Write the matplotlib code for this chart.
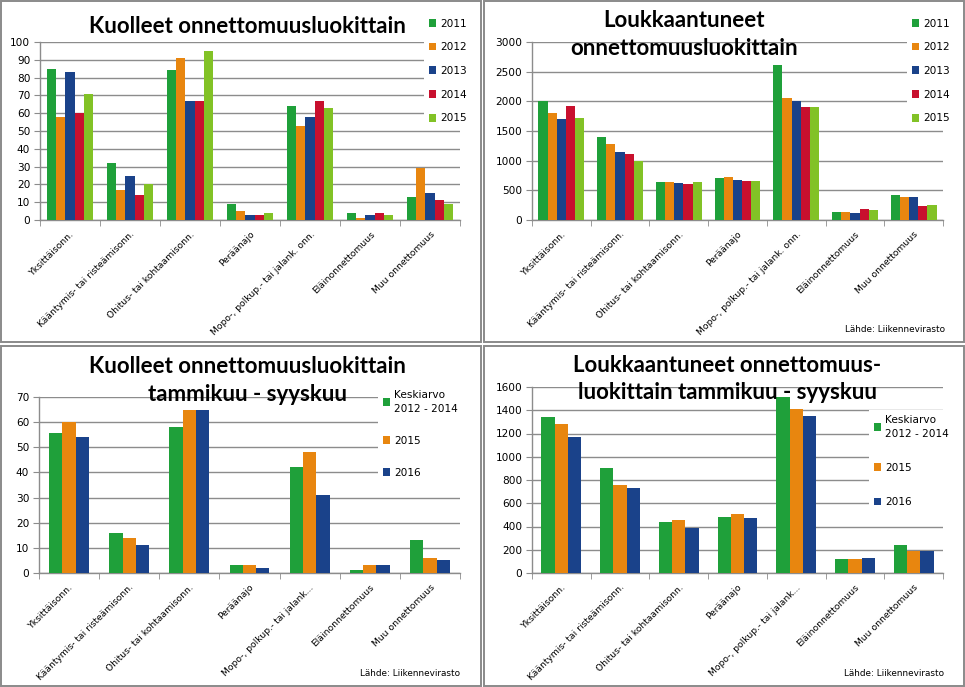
import matplotlib
matplotlib.use("Agg")
import matplotlib.pyplot as plt
from matplotlib.patches import Rectangle
import numpy as np

plt.rcParams['font.family'] = ['DejaVu Sans']

# data
categories = ["Yksittäisonn.", "Kääntymis- tai risteämisonn.", "Ohitus- tai kohtaamisonn.",
              "Peräänajo", "Mopo-, polkup.- tai jalank. onn.", "Eläinonnettomuus", "Muu onnettomuus"]
categories_short = ["Yksittäisonn.", "Kääntymis- tai risteämisonn.", "Ohitus- tai kohtaamisonn.",
                    "Peräänajo", "Mopo-, polkup.- tai jalank...", "Eläinonnettomuus", "Muu onnettomuus"]

years = ["2011", "2012", "2013", "2014", "2015"]
killed_2011 = [85, 32, 84, 9, 64, 4, 13]
killed_2012 = [58, 17, 91, 5, 53, 1, 29]
killed_2013 = [83, 25, 67, 3, 58, 3, 15]
killed_2014 = [60, 14, 67, 3, 67, 4, 11]
killed_2015 = [71, 20, 95, 4, 63, 3, 9]

injured_2011 = [2000, 1400, 640, 700, 2620, 140, 420]
injured_2012 = [1800, 1280, 640, 720, 2050, 140, 380]
injured_2013 = [1700, 1150, 620, 670, 2000, 120, 380]
injured_2014 = [1920, 1120, 600, 650, 1900, 190, 230]
injured_2015 = [1720, 1000, 640, 650, 1900, 170, 250]

period_labels = ["Keskiarvo\n2012 - 2014", "2015", "2016"]
killed_avg = [55.7, 16, 58, 3, 42.3, 1.3, 13]
killed_jan_sep_2015 = [60, 14, 65, 3, 48, 3, 6]
killed_jan_sep_2016 = [54, 11, 65, 2, 31, 3, 5]

injured_avg = [1340, 900, 440, 480, 1515, 120, 245]
injured_jan_sep_2015 = [1280, 760, 455, 505, 1410, 120, 190]
injured_jan_sep_2016 = [1170, 730, 385, 470, 1350, 125, 185]

five_colors = ["#1FA03A", "#E8860F", "#1A428A", "#C8102E", "#82C226"]
three_colors = ["#1FA03A", "#E8860F", "#1A428A"]

W, H = 965, 687
fig = plt.figure(figsize=(W / 100, H / 100), dpi=100)

def px_rect(l, t, r, b):
    return [l / W, 1 - b / H, (r - l) / W, (b - t) / H]

# panel borders
for l, t, r, b in [(1, 1, 481, 342), (484, 1, 964, 342), (1, 346, 481, 686), (484, 346, 964, 686)]:
    fig.patches.append(Rectangle((l / W, 1 - b / H), (r - l) / W, (b - t) / H,
                                 transform=fig.transFigure, fill=False,
                                 edgecolor="#8a8a8a", lw=1.4))

def bar_panel(rect, series, labels, colors, cats, ymax, ystep, group_width,
              legend_anchor, legend_spacing):
    ax = fig.add_axes(px_rect(*rect))
    n = len(series)
    x = np.arange(len(cats))
    w = group_width / n
    handles = []
    for i, (vals, lab, col) in enumerate(zip(series, labels, colors)):
        h = ax.bar(x + (i - (n - 1) / 2) * w, vals, width=w, color=col, label=lab, zorder=3)
        handles.append(h)
    ax.set_xlim(-0.5, len(cats) - 0.5)
    ax.set_ylim(0, ymax)
    ax.set_yticks(np.arange(0, ymax + ystep / 2, ystep))
    ax.yaxis.grid(True, color="#8c8c8c", lw=1, zorder=0)
    for s in ["top", "right"]:
        ax.spines[s].set_visible(False)
    for s in ["left", "bottom"]:
        ax.spines[s].set_color("#8c8c8c")
        ax.spines[s].set_linewidth(1)
    ax.set_xticks(x)
    ax.set_xticks(np.arange(-0.5, len(cats), 1), minor=True)
    ax.set_xticklabels(cats, rotation=45, ha="right", va="top",
                       rotation_mode="anchor", fontsize=6.6)
    ax.tick_params(axis="x", which="major", length=0, pad=7)
    ax.tick_params(axis="x", which="minor", length=4, color="#8c8c8c")
    ax.tick_params(axis="y", length=4, color="#8c8c8c", labelsize=7.6, pad=3)
    leg = ax.legend(handles=handles, loc="upper left",
                    bbox_to_anchor=(legend_anchor[0] / W, 1 - legend_anchor[1] / H),
                    bbox_transform=fig.transFigure, frameon=True, fancybox=False,
                    facecolor="white", edgecolor="none", framealpha=1,
                    fontsize=7.6, handlelength=0.75, handleheight=0.75,
                    handletextpad=0.35, labelspacing=legend_spacing, borderpad=0.4)
    for t in leg.get_texts():
        t.set_linespacing(1.5)
    leg.set_zorder(5)
    return ax

bar_panel((40, 42, 460, 220),
          [killed_2011, killed_2012, killed_2013, killed_2014, killed_2015],
          years, five_colors, categories, 100, 10, 0.78, (419, 9), 1.3)
bar_panel((532, 42, 943, 220),
          [injured_2011, injured_2012, injured_2013, injured_2014, injured_2015],
          years, five_colors, categories, 3000, 500, 0.78, (902, 9), 1.3)
bar_panel((39, 397, 460, 573),
          [killed_avg, killed_jan_sep_2015, killed_jan_sep_2016],
          period_labels, three_colors, categories_short, 70, 10, 0.665, (373, 380), 2.1)
bar_panel((532, 387, 943, 573),
          [injured_avg, injured_jan_sep_2015, injured_jan_sep_2016],
          period_labels, three_colors, categories_short, 1600, 200, 0.68, (864, 405), 2.3)

# titles
title_kw = dict(fontsize=16, fontweight="bold", family="Lato", ha="center", va="baseline")
def ftext(x, y, s, **kw):
    fig.text(x / W, 1 - y / H, s, **kw)

ftext(247, 33, "Kuolleet onnettomuusluokittain", **title_kw)
ftext(684, 27, "Loukkaantuneet", **title_kw)
ftext(684, 55, "onnettomuusluokittain", **title_kw)
ftext(247, 373, "Kuolleet onnettomuusluokittain", **title_kw)
ftext(247, 401, "tammikuu - syyskuu", **title_kw)
ftext(727, 372, "Loukkaantuneet onnettomuus-", **title_kw)
ftext(727, 399, "luokittain tammikuu - syyskuu", **title_kw)

# source notes
src_kw = dict(fontsize=6.4, ha="right", va="center")
ftext(945, 329, "Lähde: Liikennevirasto", **src_kw)
ftext(460, 674, "Lähde: Liikennevirasto", **src_kw)
ftext(944, 674, "Lähde: Liikennevirasto", **src_kw)

fig.savefig("out.png", dpi=100)
